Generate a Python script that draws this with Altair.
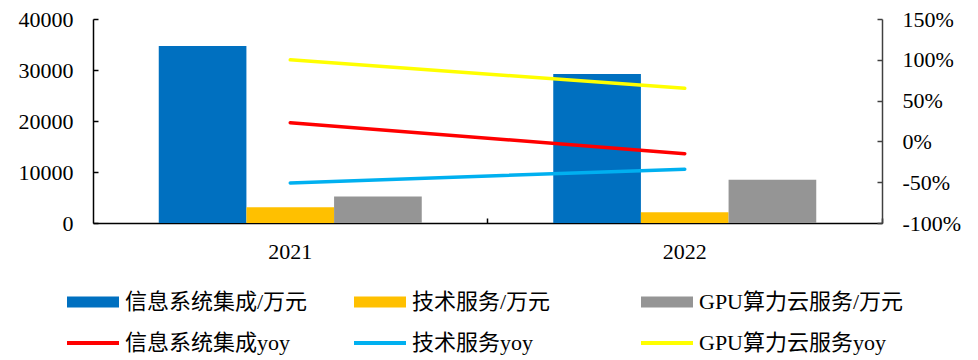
import altair as alt
import pandas as pd

# ---- data ----
years = ["2021", "2022"]
bar_series = ["信息系统集成/万元", "技术服务/万元", "GPU算力云服务/万元"]
bar_2021 = [34700, 3100, 5200]
bar_2022 = [29200, 2100, 8500]
line_series = ["信息系统集成yoy", "技术服务yoy", "GPU算力云服务yoy"]
yoy_2021 = [0.23, -0.51, 1.00]
yoy_2022 = [-0.15, -0.34, 0.65]
left_ticks = [0, 10000, 20000, 30000, 40000]
right_ticks = [-1.0, -0.5, 0.0, 0.5, 1.0, 1.5]

bar_colors = ["#0070C0", "#FFC000", "#959595"]
line_colors = ["#FF0000", "#00B0F0", "#FFFF00"]

FONT = "Liberation Serif, Noto Sans CJK SC"

bar_rows = []
for y, vals in zip(years, [bar_2021, bar_2022]):
    for s, v in zip(bar_series, vals):
        bar_rows.append({"year": y, "series": s, "value": v})
bar_df = pd.DataFrame(bar_rows)

line_rows = []
for y, vals in zip(years, [yoy_2021, yoy_2022]):
    for s, v in zip(line_series, vals):
        line_rows.append({"year": y, "series": s, "yoy": v})
line_df = pd.DataFrame(line_rows)

x_scale = alt.Scale(paddingInner=1 / 3, paddingOuter=1 / 6)
xoff = alt.XOffset("series:N", sort=bar_series,
                   scale=alt.Scale(paddingInner=0, paddingOuter=0))
left_scale = alt.Scale(domain=[0, 40000], nice=False, zero=True)
right_scale = alt.Scale(domain=[-1.0, 1.5], nice=False, zero=False)
pct_expr = "(datum.value < 0 ? '-' : '') + round(abs(datum.value) * 100) + '%'"

bars = alt.Chart(bar_df).mark_bar().encode(
    x=alt.X("year:N", sort=years, scale=x_scale,
            axis=alt.Axis(title=None, labelAngle=0, ticks=False, tickSize=0,
                          domainColor="black", domainWidth=1.5,
                          labelFont=FONT, labelFontSize=22, labelColor="black",
                          labelPadding=18)),
    xOffset=xoff,
    y=alt.Y("value:Q", scale=left_scale,
            axis=alt.Axis(title=None, orient="left", values=left_ticks, format="d",
                          ticks=False, tickSize=0, grid=False,
                          domainColor="black", domainWidth=1.5,
                          labelFont=FONT, labelFontSize=22, labelColor="black",
                          labelPadding=20)),
    fill=alt.Fill("series:N", sort=bar_series,
                  scale=alt.Scale(domain=bar_series, range=bar_colors),
                  legend=alt.Legend(title=None, orient="none", legendX=-26, legendY=257,
                                    direction="horizontal", columns=3, gridAlign="all",
                                    columnPadding=24, rowPadding=0, padding=0,
                                    symbolType="M-1,-0.2115H1V0.2115H-1Z",
                                    symbolSize=2704, symbolStrokeWidth=0,
                                    symbolOpacity=1,
                                    labelFont=FONT, labelFontSize=22, labelColor="black",
                                    labelOffset=6, labelLimit=400)),
)

lines = alt.Chart(line_df).mark_line(strokeWidth=3.5, strokeCap="round").encode(
    x=alt.X("year:N", sort=years, scale=x_scale, axis=None),
    y=alt.Y("yoy:Q", scale=right_scale,
            axis=alt.Axis(title=None, orient="right", values=right_ticks,
                          labelExpr=pct_expr, ticks=False, tickSize=0, grid=False,
                          domainColor="#404040", domainWidth=1.5,
                          labelFont=FONT, labelFontSize=22, labelColor="black",
                          labelPadding=20)),
    stroke=alt.Stroke("series:N", sort=line_series,
                      scale=alt.Scale(domain=line_series, range=line_colors),
                      legend=alt.Legend(title=None, orient="none", legendX=-28, legendY=296,
                                        direction="horizontal", columns=3, gridAlign="all",
                                        columnPadding=33, rowPadding=0, padding=0,
                                        symbolType="stroke", symbolSize=2704,
                                        symbolStrokeWidth=4,
                                        labelFont=FONT, labelFontSize=22,
                                        labelColor="black",
                                        labelOffset=4, labelLimit=400)),
)

# invisible layers that carry the inward-pointing tick marks
left_ticks_layer = alt.Chart(bar_df).mark_bar(opacity=0).encode(
    x=alt.X("year:N", sort=years, scale=x_scale,
            axis=alt.Axis(title=None, orient="bottom", offset=-5, tickSize=5,
                          tickWidth=1.5, tickColor="black", labels=False,
                          domain=False, bandPosition=0.5, tickOffset=197)),
    xOffset=xoff,
    y=alt.Y("value:Q", scale=left_scale,
            axis=alt.Axis(title=None, orient="left", offset=-5, values=left_ticks,
                          tickSize=5, tickWidth=1.5, tickColor="black",
                          labels=False, domain=False, grid=False)),
)

right_ticks_layer = alt.Chart(line_df).mark_line(opacity=0).encode(
    x=alt.X("year:N", sort=years, scale=x_scale, axis=None),
    y=alt.Y("yoy:Q", scale=right_scale,
            axis=alt.Axis(title=None, orient="right", offset=-5, values=right_ticks,
                          tickSize=5, tickWidth=1.5, tickColor="#404040",
                          labels=False, domain=False, grid=False)),
)

chart = alt.layer(bars, lines, left_ticks_layer, right_ticks_layer).resolve_scale(
    y="independent", fill="independent", stroke="independent"
).resolve_axis(
    x="independent", y="independent"
).properties(
    width=789, height=204,
    autosize=alt.AutoSizeParams(type="none"),
    padding={"left": 93, "top": 19, "right": 96, "bottom": 137},
    background="white",
).configure_view(stroke=None)

chart.save("out.html", embed_options={"renderer": "svg", "actions": False})
